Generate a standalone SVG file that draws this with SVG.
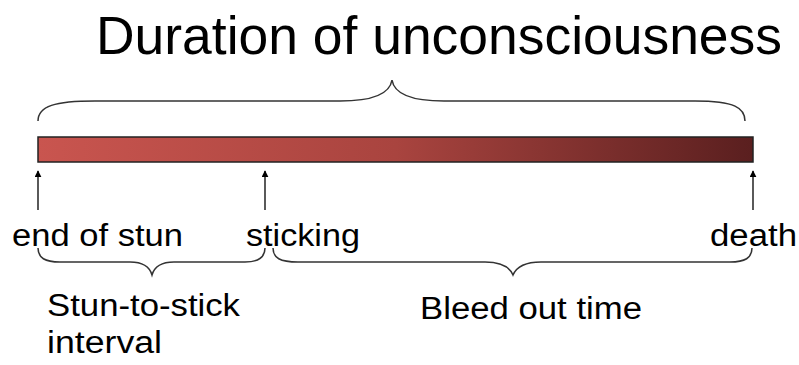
<svg xmlns="http://www.w3.org/2000/svg" width="799" height="365" viewBox="0 0 799 365">
<defs>
<linearGradient id="barGrad" x1="0" y1="0" x2="1" y2="0">
<stop offset="0" stop-color="#c9554f"/>
<stop offset="0.5" stop-color="#a9443f"/>
<stop offset="1" stop-color="#5a1f1f"/>
</linearGradient>
<marker id="arrow" viewBox="0 0 10 10" refX="9" refY="5" markerWidth="7" markerHeight="7" markerUnits="userSpaceOnUse" orient="auto">
<path d="M0,0 L10,5 L0,10 Z" fill="#000"/>
</marker>
</defs>
<style>
text{font-family:"Liberation Sans",Arial,sans-serif;fill:#000}
.lbl{font-size:31px}
.brace{fill:none;stroke:#333;stroke-width:1.5}
.arr{stroke:#000;stroke-width:1.3;marker-end:url(#arrow)}
</style>
<rect width="799" height="365" fill="#fff"/>
<g id="title"><text x="96" y="54" font-size="54" textLength="686" lengthAdjust="spacingAndGlyphs">Duration of unconsciousness</text></g>
<g id="bar"><rect x="38" y="137" width="715" height="25" fill="url(#barGrad)" stroke="#222" stroke-width="1.5"/></g>
<g id="connectors">
<path class="brace" d="M38,121 C38,106 55,101 95,101 L340,101 C375,101 390,93 392,80 C394,93 409,101 444,101 L695,101 C735,101 745,108 745,121"/>
<path class="brace" d="M38,248 C38,258 45,262 60,262 L130,262 C145,262 150,268 152,275 C154,268 159,262 174,262 L245,262 C258,262 265,258 265,248"/>
<path class="brace" d="M273,248 C273,258 280,262 298,262 L485,262 C502,262 510,268 513,275 C516,268 524,262 541,262 L730,262 C745,262 752,258 752,248"/>
<line class="arr" x1="38" y1="210" x2="38" y2="171"/>
<line class="arr" x1="265" y1="210" x2="265" y2="171"/>
<line class="arr" x1="753" y1="210" x2="753" y2="171"/>
</g>
<g id="end-of-stun"><text class="lbl" x="12" y="246" textLength="171" lengthAdjust="spacingAndGlyphs">end of stun</text></g>
<g id="sticking"><text class="lbl" x="246" y="246" textLength="114" lengthAdjust="spacingAndGlyphs">sticking</text></g>
<g id="death"><text class="lbl" x="710" y="246" textLength="87" lengthAdjust="spacingAndGlyphs">death</text></g>
<g id="stun-to-stick"><text class="lbl" x="47" y="316" textLength="193" lengthAdjust="spacingAndGlyphs">Stun-to-stick</text><text class="lbl" x="47" y="353" textLength="115" lengthAdjust="spacingAndGlyphs">interval</text></g>
<g id="bleed-out"><text class="lbl" x="420" y="319" textLength="222" lengthAdjust="spacingAndGlyphs">Bleed out time</text></g>
</svg>
